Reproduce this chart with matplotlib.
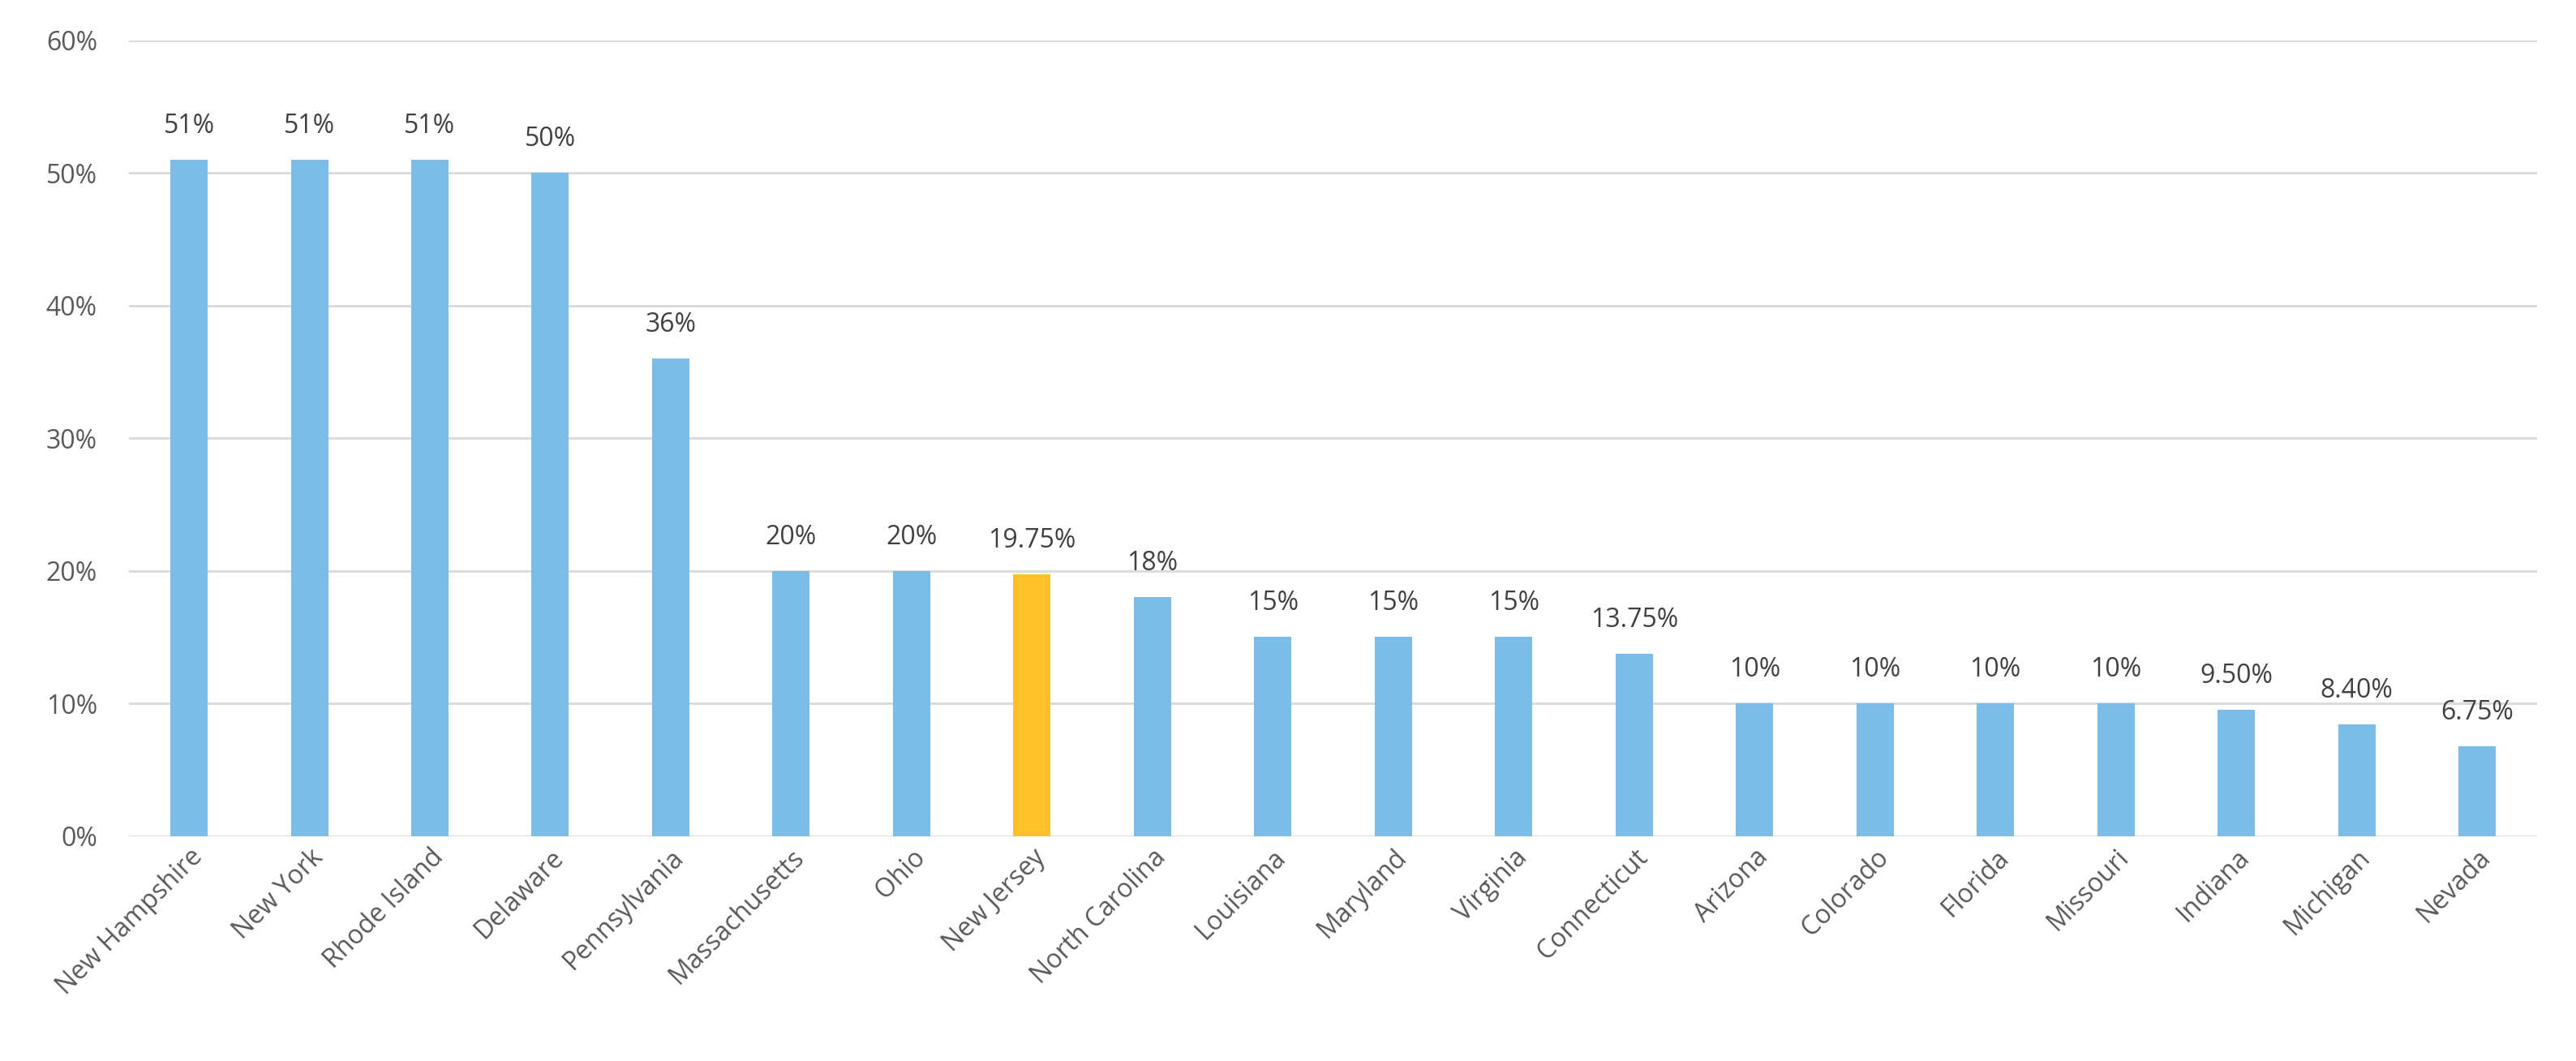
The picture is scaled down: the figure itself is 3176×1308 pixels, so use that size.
import matplotlib
matplotlib.use("Agg")
import matplotlib.pyplot as plt
from matplotlib.ticker import FuncFormatter

states = ["New Hampshire","New York","Rhode Island","Delaware","Pennsylvania","Massachusetts","Ohio","New Jersey","North Carolina","Louisiana","Maryland","Virginia","Connecticut","Arizona","Colorado","Florida","Missouri","Indiana","Michigan","Nevada"]
values = [51,51,51,50,36,20,20,19.75,18,15,15,15,13.75,10,10,10,10,9.5,8.4,6.75]
labels = ["51%","51%","51%","50%","36%","20%","20%","19.75%","18%","15%","15%","15%","13.75%","10%","10%","10%","10%","9.50%","8.40%","6.75%"]
highlight = "New Jersey"

plt.rcParams["font.family"] = "Open Sans"
fig = plt.figure(figsize=(15.88, 6.54), dpi=200)
ax = fig.add_axes([0.05, 0.212, 0.935, 0.75])
colors = ["#FFC125" if s == highlight else "#7BBDE8" for s in states]
x = range(len(states))
bars = ax.bar(x, values, width=0.31, color=colors, zorder=3)
for b, l in zip(bars, labels):
    ax.annotate(l, (b.get_x()+b.get_width()/2, b.get_height()), xytext=(0, 9),
                textcoords="offset points", ha="center", va="bottom", fontsize=11.5, color="#404040")
ax.set_ylim(0, 60)
ax.set_xlim(-0.5, len(states)-0.5)
ax.set_yticks(range(0, 61, 10))
ax.yaxis.set_major_formatter(FuncFormatter(lambda v, p: f"{int(v)}%"))
ax.grid(axis="y", color="#D9D9D9", linewidth=1, zorder=0)
for s in ax.spines.values():
    s.set_visible(False)
ax.tick_params(axis="both", length=0, labelsize=11.5, labelcolor="#595959")
ax.tick_params(axis="y", pad=14)
ax.set_xticks(list(x))
ax.set_xticklabels(states, rotation=45, ha="right", rotation_mode="anchor")
fig.savefig("out.png", dpi=200, facecolor="white")
